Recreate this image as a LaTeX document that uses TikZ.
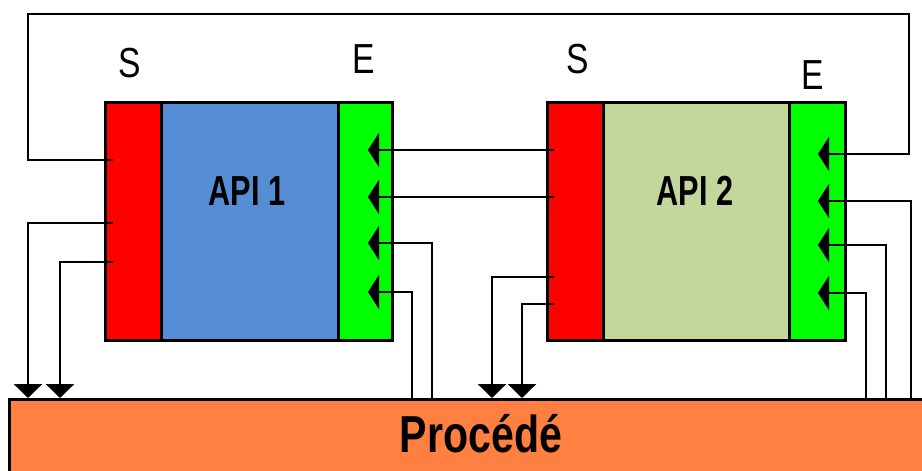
\documentclass[tikz,border=0pt]{standalone}
\usepackage{fontspec}
\setmainfont{Liberation Sans}
\usetikzlibrary{arrows.meta}
\definecolor{cRed}{HTML}{FF0000}
\definecolor{cBlue}{HTML}{558ED5}
\definecolor{cLime}{HTML}{00FF00}
\definecolor{cSage}{HTML}{C3D69B}
\definecolor{cOrange}{HTML}{FF8040}
\begin{document}
\begin{tikzpicture}[x=1pt,y=-1pt,
  panel/.style={draw=black, line width=3pt, anchor=north west, inner sep=0pt, minimum height=238pt},
  wire/.style={draw=black, line width=2.8pt},
  inarrow/.style={-{Triangle[width=34pt,length=11pt]}},
  downarrow/.style={-{Triangle[width=28pt,length=14pt]}},
  lbl/.style={font=\fontsize{42}{42}\selectfont, anchor=base, inner sep=0pt},
  title/.style={font=\fontsize{42}{42}\selectfont\bfseries, anchor=base, inner sep=0pt},
  ptitle/.style={font=\fontsize{52}{52}\selectfont\bfseries, anchor=base, inner sep=0pt}]
\useasboundingbox (0,0) rectangle (922,471);

% Procede
\node[draw=black, line width=3pt, fill=cOrange, anchor=north west, inner sep=0pt,
      minimum width=940pt, minimum height=100pt] (proc) at (8,398) {};
\node[ptitle] (proctxt) at (481,452) {\scalebox{0.79}[1]{Procédé}};

% API 1
\node[panel, fill=cRed,  minimum width=56pt]  (s1) at (104,101) {};
\node[panel, fill=cBlue, minimum width=177pt] (c1) at (160,101) {};
\node[panel, fill=cLime, minimum width=54pt]  (e1) at (337,101) {};
\node[title] (t1) at (247,205) {\scalebox{0.73}[1]{API 1}};
\node[lbl] (ls1) at (130,77) {\scalebox{0.8}[1]{S}};
\node[lbl] (le1) at (364,73) {\scalebox{0.8}[1]{E}};

% API 2
\node[panel, fill=cRed,  minimum width=56pt]  (s2) at (546,101) {};
\node[panel, fill=cSage, minimum width=186pt] (c2) at (602,101) {};
\node[panel, fill=cLime, minimum width=56pt]  (e2) at (788,101) {};
\node[title] (t2) at (695,205) {\scalebox{0.73}[1]{API 2}};
\node[lbl] (ls2) at (578,73) {\scalebox{0.8}[1]{S}};
\node[lbl] (le2) at (813,89) {\scalebox{0.8}[1]{E}};

% pins of API 1
\coordinate (s1a) at (113,160);
\coordinate (s1b) at (113,223);
\coordinate (s1c) at (113,262);
\coordinate (e1a) at (368,150);
\coordinate (e1b) at (368,197);
\coordinate (e1c) at (368,243);
\coordinate (e1d) at (368,292);
% pins of API 2
\coordinate (s2a) at (554,150);
\coordinate (s2b) at (554,197);
\coordinate (s2c) at (554,277);
\coordinate (s2d) at (554,304);
\coordinate (e2a) at (818,154);
\coordinate (e2b) at (818,201);
\coordinate (e2c) at (818,245);
\coordinate (e2d) at (818,293);
% points on the process
\coordinate (pa) at (28,398);
\coordinate (pb) at (60,398);
\coordinate (pc) at (412,398);
\coordinate (pd) at (432,398);
\coordinate (pe) at (492,398);
\coordinate (pf) at (522,398);
\coordinate (pg) at (866,398);
\coordinate (ph) at (886,398);
\coordinate (pi) at (911,398);

% feedback loop
\draw[wire, inarrow] (s1a) -- (28,160) -- (28,14) -- (909,14) -- (909,154) -- (e2a);

% API 1 outputs to process
\draw[wire, downarrow] (s1b) -| (pa);
\draw[wire, downarrow] (s1c) -| (pb);
% process to API 1 inputs
\draw[wire, inarrow] (pd) |- (e1c);
\draw[wire, inarrow] (pc) |- (e1d);
% API 2 outputs to API 1 inputs
\draw[wire, inarrow] (s2a) -- (e1a);
\draw[wire, inarrow] (s2b) -- (e1b);
% API 2 outputs to process
\draw[wire, downarrow] (s2c) -| (pe);
\draw[wire, downarrow] (s2d) -| (pf);
% process to API 2 inputs
\draw[wire, inarrow] (pi) |- (e2b);
\draw[wire, inarrow] (ph) |- (e2c);
\draw[wire, inarrow] (pg) |- (e2d);
\end{tikzpicture}
\end{document}
